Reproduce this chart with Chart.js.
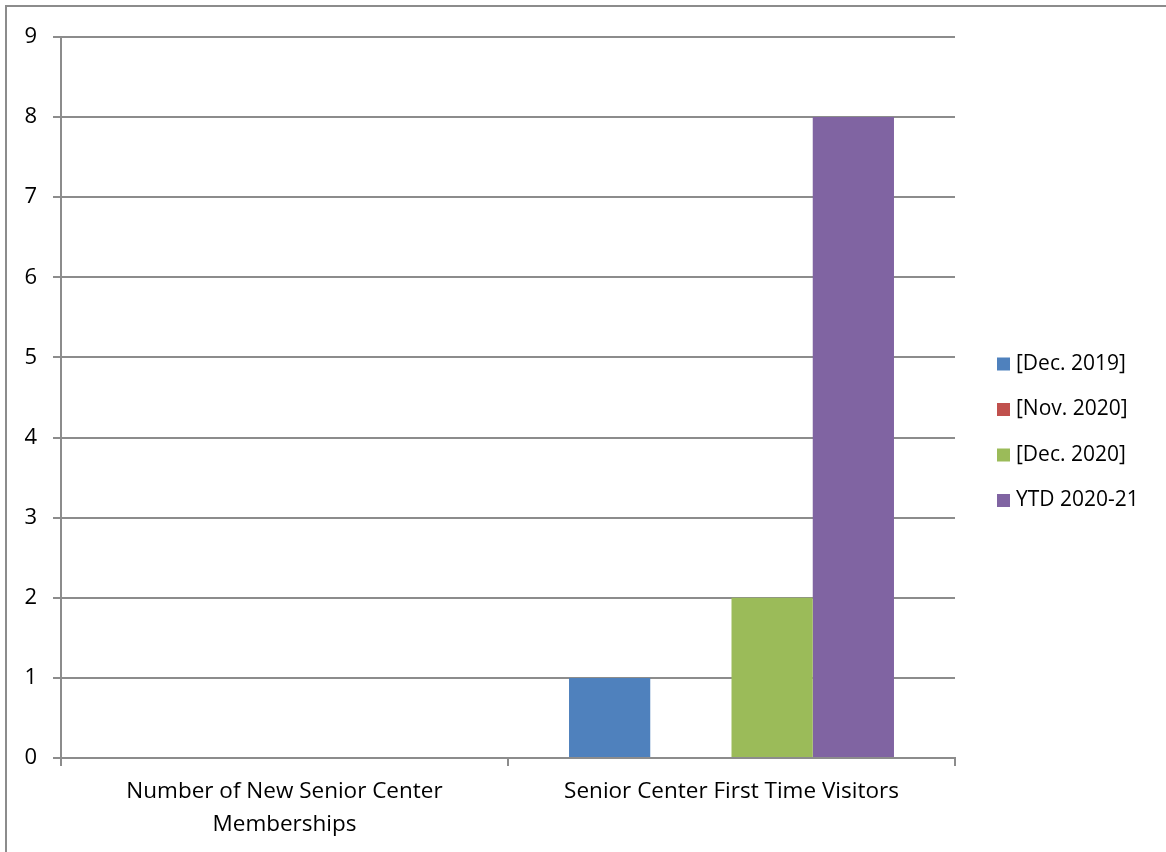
<!DOCTYPE html>
<html>
<head>
<meta charset="utf-8">
<script src="https://cdn.jsdelivr.net/npm/chart.js@4.4.0/dist/chart.umd.min.js"></script>
<style>
  html, body { margin: 0; padding: 0; background: #fff; overflow: hidden; }
  #wrap { position: relative; width: 1166px; height: 852px; }
  #frame {
    position: absolute; left: 5px; top: 5px; width: 1300px; height: 1000px;
    border-left: 2px solid #8c8c8c; border-top: 2px solid #8c8c8c;
  }
  canvas { position: absolute; left: 0; top: 0; }
</style>
</head>
<body>
<div id="wrap">
  <div id="frame"></div>
  <canvas id="chart" width="1166" height="852"></canvas>
</div>
<script>
// Categorías y series
const categories = [
    ['Number of New Senior Center', 'Memberships'],
    'Senior Center First Time Visitors'
];
const seriesNames = ['[Dec. 2019]', '[Nov. 2020]', '[Dec. 2020]', 'YTD 2020-21'];
const dec2019 = [0, 1];
const nov2020 = [0, 0];
const dec2020 = [0, 2];
const ytd2021 = [0, 8];
const yTicks = [0, 1, 2, 3, 4, 5, 6, 7, 8, 9];

const colors = ['#4f81bd', '#c0504d', '#9bbb59', '#8064a2'];
const gridColor = '#8c8c8c';
const fontFamily = '"Open Sans", sans-serif';

// Leyenda dibujada a mano a la derecha
const sideLegend = {
    id: 'sideLegend',
    afterDraw(chart) {
        const ctx = chart.ctx;
        const datasets = chart.data.datasets;
        const x = 997, box = 13, gap = 45.5;
        const y0 = 364;
        ctx.save();
        ctx.font = '21px ' + fontFamily;
        ctx.textBaseline = 'middle';
        ctx.textAlign = 'left';
        datasets.forEach((ds, i) => {
            const y = y0 + i * gap;
            ctx.fillStyle = ds.backgroundColor;
            ctx.fillRect(x, y - box / 2, box, box);
            ctx.fillStyle = '#000';
            ctx.fillText(ds.label, x + 19, y);
        });
        ctx.restore();
    }
};

const values = [dec2019, nov2020, dec2020, ytd2021];

new Chart(document.getElementById('chart').getContext('2d'), {
    type: 'bar',
    data: {
        labels: categories,
        datasets: seriesNames.map((name, i) => ({
            label: name,
            data: values[i],
            backgroundColor: colors[i],
            borderWidth: 0,
            categoryPercentage: 0.727,
            barPercentage: 1.0
        }))
    },
    options: {
        responsive: false,
        animation: false,
        layout: { padding: { left: 0, right: 211, top: 37, bottom: 0 } },
        plugins: {
            legend: { display: false },
            tooltip: { enabled: false }
        },
        scales: {
            x: {
                grid: {
                    offset: true,
                    drawOnChartArea: false,
                    drawTicks: true,
                    tickLength: 8,
                    color: gridColor,
                    lineWidth: 2
                },
                border: { color: gridColor, width: 2 },
                ticks: {
                    color: '#000',
                    font: { family: fontFamily, size: 22.5, lineHeight: 1.47 },
                    padding: 9,
                    maxRotation: 0,
                    autoSkip: false
                },
                afterFit(scale) { scale.height = 94; }
            },
            y: {
                min: 0,
                max: 9,
                afterBuildTicks(scale) {
                    scale.ticks = yTicks.map(v => ({ value: v }));
                },
                grid: {
                    color: gridColor,
                    lineWidth: 2,
                    tickLength: 8
                },
                border: { color: gridColor, width: 2 },
                ticks: {
                    color: '#000',
                    font: { family: fontFamily, size: 22 },
                    padding: 16
                },
                afterFit(scale) { scale.width = 61; }
            }
        }
    },
    plugins: [sideLegend]
});
</script>
</body>
</html>
